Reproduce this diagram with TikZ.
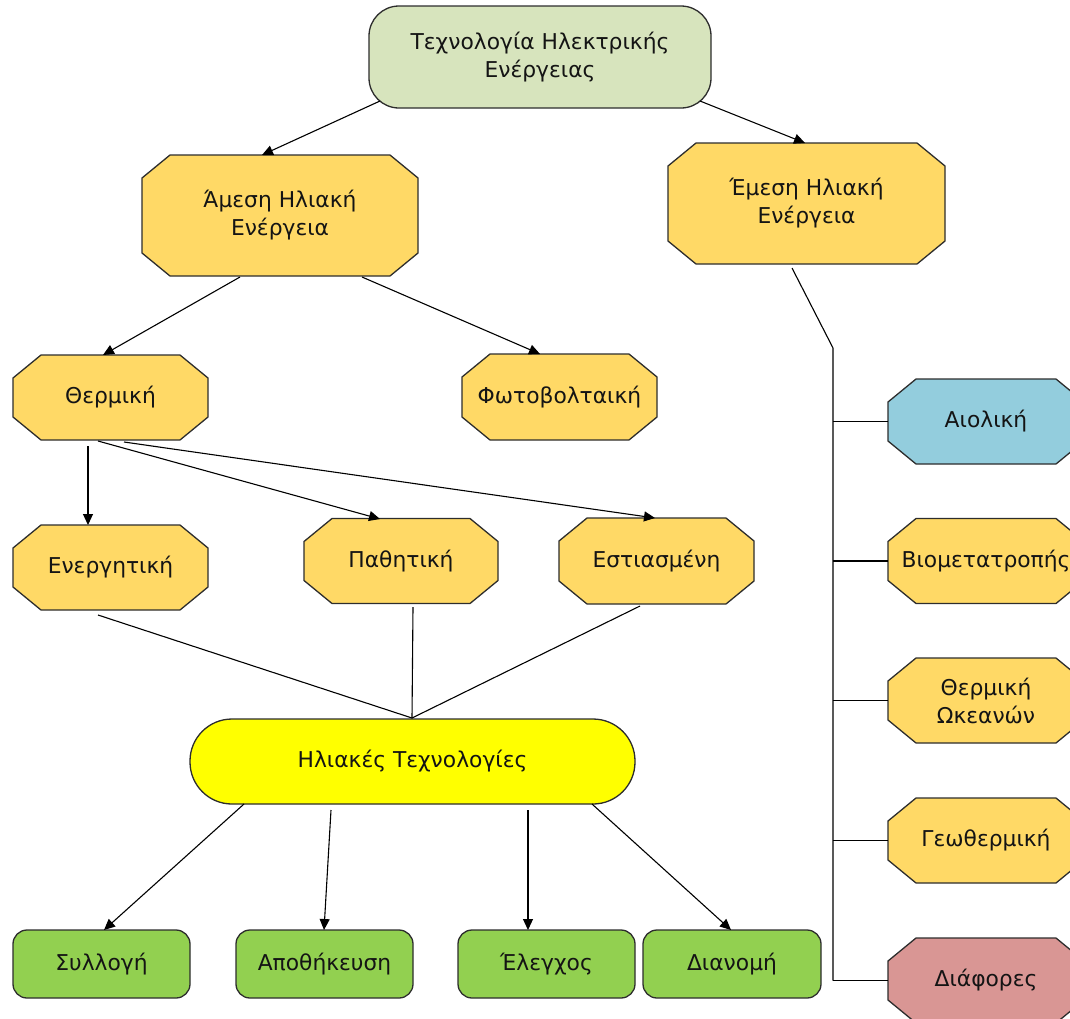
\documentclass[tikz,border=0pt]{standalone}
\usepackage{fontspec}
\setmainfont{DejaVu Sans}
\usetikzlibrary{arrows.meta,backgrounds,calc}
\definecolor{topfill}{RGB}{215,228,189}
\definecolor{goldfill}{RGB}{255,217,102}
\definecolor{bluefill}{RGB}{147,205,221}
\definecolor{pinkfill}{RGB}{217,150,148}
\definecolor{greenfill}{RGB}{146,208,80}
\definecolor{yellowfill}{RGB}{255,255,0}
\definecolor{edgecol}{RGB}{45,45,45}
\definecolor{txtcol}{RGB}{20,20,20}
\tikzset{
  txt/.style={font=\fontsize{21.8}{28}\selectfont, text=txtcol, align=center},
  octbox/.style={txt, rectangle, draw=none, inner sep=0pt, outer sep=0pt},
  octline/.style={draw=edgecol, line width=1.3pt, line join=miter},
  roundbox/.style={txt, rectangle, draw=edgecol, line width=1.3pt, inner sep=0pt, outer sep=0pt},
  conn/.style={draw=black, line width=1.1pt},
  arr/.style={conn, -{Triangle[length=11pt,width=10pt]}},
}
\newcommand\octdraw[2]{%
  \begin{pgfonlayer}{background}
    \filldraw[octline, fill=#2]
      ([xshift=28pt]#1.north west) -- ([xshift=-28pt]#1.north east) --
      ([yshift=-23pt]#1.north east) -- ([yshift=23pt]#1.south east) --
      ([xshift=-28pt]#1.south east) -- ([xshift=28pt]#1.south west) --
      ([yshift=23pt]#1.south west) -- ([yshift=-23pt]#1.north west) -- cycle;
  \end{pgfonlayer}}
\begin{document}
\begin{tikzpicture}[x=1pt,y=-1pt]
\useasboundingbox (0,0) rectangle (1070,1018);

% top
\node[roundbox, fill=topfill, rounded corners=30pt, minimum width=342pt, minimum height=102pt]
  (top) at (540,57) {Τεχνολογία Ηλεκτρικής\\Ενέργειας};

% octagon nodes
\node[octbox, minimum width=276pt, minimum height=121pt] (amesi) at (280,215.5) {Άμεση Ηλιακή\\Ενέργεια};
\octdraw{amesi}{goldfill}
\node[octbox, minimum width=277pt, minimum height=121pt] (emesi) at (806.5,203.5) {Έμεση Ηλιακή\\Ενέργεια};
\octdraw{emesi}{goldfill}
\node[octbox, minimum width=195pt, minimum height=85pt] (therm) at (110.5,397.5) {Θερμική};
\octdraw{therm}{goldfill}
\node[octbox, minimum width=195pt, minimum height=86pt] (photo) at (559.5,397) {Φωτοβολταική};
\octdraw{photo}{goldfill}
\node[octbox, minimum width=195pt, minimum height=85pt] (energ) at (110.5,567.5) {Ενεργητική};
\octdraw{energ}{goldfill}
\node[octbox, minimum width=194pt, minimum height=85pt] (pathi) at (401,561) {Παθητική};
\octdraw{pathi}{goldfill}
\node[octbox, minimum width=195pt, minimum height=86pt] (estia) at (656.5,561) {Εστιασμένη};
\octdraw{estia}{goldfill}

\node[octbox, minimum width=196pt, minimum height=85pt] (aiol) at (986,421.5) {Αιολική};
\octdraw{aiol}{bluefill}
\node[octbox, minimum width=196pt, minimum height=85pt] (biom) at (986,561) {Βιομετατροπής};
\octdraw{biom}{goldfill}
\node[octbox, minimum width=196pt, minimum height=85pt] (okean) at (986,700.5) {Θερμική\\Ωκεανών};
\octdraw{okean}{goldfill}
\node[octbox, minimum width=196pt, minimum height=85pt] (geoth) at (986,840.5) {Γεωθερμική};
\octdraw{geoth}{goldfill}
\node[octbox, minimum width=196pt, minimum height=85pt] (diaf) at (986,980.5) {Διάφορες};
\octdraw{diaf}{pinkfill}

% solar technologies
\node[roundbox, fill=yellowfill, rounded corners=42pt, minimum width=445pt, minimum height=85pt]
  (solar) at (412.5,761.5) {Ηλιακές Τεχνολογίες};

% bottom green
\node[roundbox, fill=greenfill, rounded corners=14pt, minimum width=177pt, minimum height=68pt] (syl) at (101.5,964) {Συλλογή};
\node[roundbox, fill=greenfill, rounded corners=14pt, minimum width=177pt, minimum height=68pt] (apoth) at (324.5,964) {Αποθήκευση};
\node[roundbox, fill=greenfill, rounded corners=14pt, minimum width=177pt, minimum height=68pt] (eleg) at (546.5,964) {Έλεγχος};
\node[roundbox, fill=greenfill, rounded corners=14pt, minimum width=178pt, minimum height=68pt] (dian) at (732,964) {Διανομή};

% connectors
\draw[arr] ([shift={(-160,44)}]top.center) -- ([shift={(-18,-60.5)}]amesi.center);
\draw[arr] ([shift={(160,44)}]top.center) -- ([shift={(-1.5,-60.5)}]emesi.center);
\draw[arr] ([shift={(-40,61.5)}]amesi.center) -- ([shift={(-7.5,-42.5)}]therm.center);
\draw[arr] ([shift={(82,61.5)}]amesi.center) -- ([shift={(-19.5,-43)}]photo.center);
\draw[arr] ([shift={(-22.5,48.5)}]therm.center) -- ([shift={(-22.5,-42.5)}]energ.center);
\draw[arr] ([shift={(-12.5,43.5)}]therm.center) -- ([shift={(-21,-42)}]pathi.center);
\draw[arr] ([shift={(13.5,44.5)}]therm.center) -- ([shift={(-1.5,-43)}]estia.center);

\draw[conn] ([shift={(-12.5,47.5)}]energ.center) -- ([shift={(-0.5,-43.5)}]solar.center);
\draw[conn] ([shift={(12,46)}]pathi.center) -- ([shift={(-0.5,-43.5)}]solar.center);
\draw[conn] ([shift={(-16.5,45)}]estia.center) -- ([shift={(-0.5,-43.5)}]solar.center);

\draw[arr] ([shift={(-168.5,42.5)}]solar.center) -- ([shift={(2.5,-34)}]syl.center);
\draw[arr] ([shift={(-81.5,48.5)}]solar.center) -- ([shift={(-0.5,-34)}]apoth.center);
\draw[arr] ([shift={(115.5,48.5)}]solar.center) -- ([shift={(-18.5,-34)}]eleg.center);
\draw[arr] ([shift={(179.5,42.5)}]solar.center) -- ([shift={(-1,-34)}]dian.center);

% bus on the right
\coordinate (bustop) at (833,348);
\coordinate (busbot) at (833,980.5);
\draw[conn] ([shift={(-14.5,64.5)}]emesi.center) -- (bustop) -- (busbot);
\draw[conn] (aiol.west -| bustop) -- (aiol.west);
\draw[conn] (biom.west -| bustop) -- (biom.west);
\draw[conn] (okean.west -| bustop) -- (okean.west);
\draw[conn] (geoth.west -| bustop) -- (geoth.west);
\draw[conn] (busbot) -- (diaf.west);
\end{tikzpicture}
\end{document}
